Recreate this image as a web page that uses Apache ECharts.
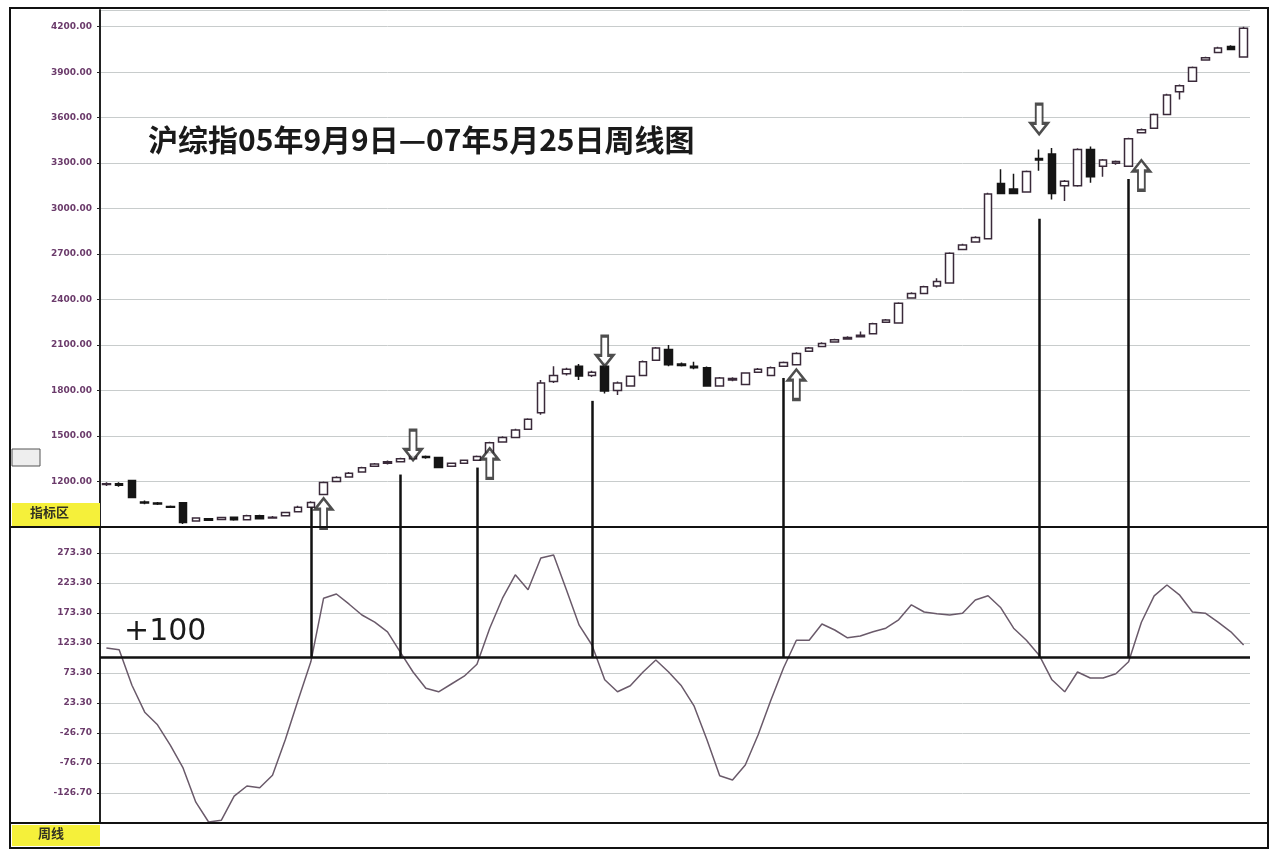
<!DOCTYPE html>
<html><head><meta charset="utf-8">
<script src="https://cdn.jsdelivr.net/npm/echarts@6/dist/echarts.min.js"></script>
<style>html,body{margin:0;padding:0;background:#fff}#c{width:1280px;height:856px}</style>
</head><body><div id="c"></div>
<script>
// weekly candles: [open, close, low, high]
const weeks = Array.from({length: 90}, (_, i) => 'W' + (i + 1));
const candles = [
[1180,1185,1170,1195],[1185,1175,1165,1195],[1206,1095,1090,1210],[1065,1058,1050,1075],[1058,1052,1045,1065],
[1035,1030,1025,1042],[1060,930,920,1065],[940,960,935,965],[955,945,940,960],[950,962,945,968],
[965,948,942,970],[948,975,945,980],[975,955,950,980],[960,965,955,972],[975,996,970,1000],
[1000,1030,995,1040],[1030,1062,1025,1070],[1115,1193,1110,1200],[1200,1226,1195,1235],[1230,1255,1225,1262],
[1262,1290,1258,1298],[1300,1315,1295,1322],[1320,1330,1312,1338],[1330,1350,1325,1356],[1350,1365,1345,1372],
[1365,1358,1350,1372],[1358,1292,1288,1362],[1300,1320,1295,1326],[1320,1340,1315,1346],[1340,1365,1335,1372],
[1390,1455,1385,1462],[1460,1490,1455,1498],[1490,1540,1485,1548],[1545,1610,1540,1618],[1653,1850,1640,1870],
[1860,1900,1850,1960],[1910,1940,1900,1950],[1960,1896,1870,1975],[1900,1920,1890,1930],[1960,1797,1780,1985],
[1800,1850,1770,1860],[1830,1895,1825,1900],[1900,1990,1895,1998],[2000,2080,1995,2088],[2070,1970,1960,2100],
[1975,1965,1958,1985],[1960,1950,1940,1990],[1950,1830,1825,1958],[1830,1883,1825,1890],[1870,1880,1862,1888],
[1840,1915,1835,1920],[1920,1940,1915,1948],[1900,1950,1895,1958],[1960,1985,1955,1992],[1970,2045,1965,2052],
[2060,2080,2055,2088],[2090,2110,2085,2118],[2120,2135,2115,2142],[2140,2150,2135,2158],[2155,2165,2150,2190],
[2175,2240,2170,2248],[2250,2265,2245,2272],[2245,2375,2240,2382],[2410,2440,2405,2448],[2440,2485,2435,2492],
[2490,2520,2480,2540],[2510,2705,2505,2712],[2730,2760,2725,2768],[2780,2810,2775,2818],[2802,3097,2798,3105],
[3165,3100,3095,3260],[3130,3100,3095,3230],[3110,3245,3105,3252],[3330,3320,3250,3390],[3360,3100,3060,3400],
[3150,3180,3050,3188],[3150,3390,3145,3398],[3390,3210,3170,3410],[3280,3320,3210,3328],[3300,3310,3290,3318],
[3280,3460,3275,3468],[3500,3520,3495,3528],[3530,3620,3525,3628],[3620,3750,3615,3758],[3770,3810,3720,3818],
[3840,3930,3835,3938],[3980,3995,3975,4002],[4030,4060,4025,4068],[4070,4050,4045,4078],[4000,4190,3995,4200]
];
const cci = [115,112,53,8,-13,-47,-85,-142,-175,-172,-132,-115,-118,-97,-38,28,92,198,205,188,
170,158,142,108,75,48,42,55,68,88,148,198,237,212,265,270,212,153,120,62,
42,52,75,95,75,52,18,-38,-98,-105,-80,-30,28,82,128,128,155,145,132,135,
142,148,162,187,175,172,170,173,195,202,182,148,128,103,62,42,75,65,65,72,
92,158,202,220,203,175,173,158,142,120];
const signalWeeks = [16,23,29,38,53,73,80];
const signalPrice = [1029,1246,1292,1732,1883,2933,3196];
const upArrows = [[17,990],[30,1320],[54,1840],[81,3220]];
const downArrows = [[24,1440],[39,2060],[73,3590]];
const priceMin = 900, priceMax = 4310, priceStep = 300;
const cciMin = -176.7, cciMax = 316.7, cciStep = 50, cciLevel = 100;
const title = '沪综指05年9月9日—07年5月25日周线图';

const upPath = 'path://M5,0 L10,5 L7,5 L7,14 L3,14 L3,5 L0,5 Z';
const downPath = 'path://M3,0 L7,0 L7,9 L10,9 L5,14 L0,9 L3,9 Z';
const lbl = {color:'#6b3b6b', fontSize:9, fontWeight:'bold', fontFamily:'DejaVu Sans', formatter:v=>v.toFixed(2), showMaxLabel:false};
const chart = echarts.init(document.getElementById('c'));
chart.setOption({
  animation:false, backgroundColor:'#fff',
  grid:[{left:100,top:10,width:1150,height:517},{left:100,top:527,width:1150,height:296}],
  xAxis:[
    {type:'category',data:weeks,gridIndex:0,axisLine:{show:false},axisTick:{show:false},axisLabel:{show:false}},
    {type:'category',data:weeks,gridIndex:1,axisLine:{show:false},axisTick:{show:false},axisLabel:{show:false}}
  ],
  yAxis:[
    {type:'value',gridIndex:0,min:priceMin,max:priceMax,interval:priceStep,axisLine:{show:true,lineStyle:{color:'#222',width:2}},
     axisTick:{show:true,length:3},axisLabel:Object.assign({showMinLabel:false},lbl),splitLine:{lineStyle:{color:'#c8cccc'}}},
    {type:'value',gridIndex:1,min:cciMin,max:cciMax,interval:cciStep,axisLine:{show:true,lineStyle:{color:'#222',width:2}},
     axisTick:{show:true,length:3},axisLabel:Object.assign({showMinLabel:false},lbl),splitLine:{lineStyle:{color:'#c8cccc'}}}
  ],
  series:[
    {type:'candlestick',xAxisIndex:0,yAxisIndex:0,data:candles,barWidth:8,
     itemStyle:{color:'#fff',color0:'#151515',borderColor:'#3a2a3a',borderColor0:'#151515',borderWidth:1.5},
     markLine:{symbol:'none',silent:true,label:{show:false},lineStyle:{color:'#111',width:2.5,type:'solid'},
       data:signalWeeks.map((w,k)=>[{coord:[w,priceMin]},{coord:[w,signalPrice[k]]}])}},
    {type:'line',xAxisIndex:1,yAxisIndex:1,data:cci,symbol:'none',lineStyle:{color:'#6a5a6a',width:1.5},
     markLine:{symbol:'none',silent:true,label:{show:false},lineStyle:{color:'#111',width:2.5,type:'solid'},
       data:[{yAxis:cciLevel}].concat(signalWeeks.map(w=>[{coord:[w,cciLevel]},{coord:[w,cciMax]}]))}},
    {type:'scatter',xAxisIndex:0,yAxisIndex:0,data:upArrows,symbol:upPath,symbolSize:[17,30],z:5,
     itemStyle:{color:'#fff',borderColor:'#222',borderWidth:2.5}},
    {type:'scatter',xAxisIndex:0,yAxisIndex:0,data:downArrows,symbol:downPath,symbolSize:[17,30],z:5,
     itemStyle:{color:'#fff',borderColor:'#222',borderWidth:2.5}}
  ],
  graphic:[
    {type:'rect',shape:{x:10,y:8,width:1258,height:840},style:{fill:'none',stroke:'#111',lineWidth:2},z:100},
    {type:'line',shape:{x1:10,y1:527,x2:1268,y2:527},style:{stroke:'#111',lineWidth:2},z:100},
    {type:'line',shape:{x1:10,y1:823,x2:1268,y2:823},style:{stroke:'#111',lineWidth:2},z:100},
    {type:'rect',shape:{x:12,y:503,width:88,height:23},style:{fill:'#f5f03a'},z:90},
    {type:'text',left:30,top:506,style:{text:'指标区',fontSize:13,fontWeight:'bold',fill:'#332',fontFamily:'Noto Sans CJK SC'},z:101},
    {type:'rect',shape:{x:12,y:825,width:88,height:21},style:{fill:'#f5f03a'},z:90},
    {type:'text',left:38,top:827,style:{text:'周线',fontSize:13,fontWeight:'bold',fill:'#332',fontFamily:'Noto Sans CJK SC'},z:101},
    {type:'rect',shape:{x:12,y:449,width:28,height:17},style:{fill:'#eee',stroke:'#555'},z:90},
    {type:'text',left:148,top:125,style:{text:title,fontSize:30,fontWeight:'bold',fill:'#1a1a1a',fontFamily:'Noto Sans CJK SC'},z:101},
    {type:'text',left:124,top:617,style:{text:'+100',fontSize:30,fill:'#1a1a1a',fontFamily:'DejaVu Sans'},z:101}
  ]
});
</script></body></html>
